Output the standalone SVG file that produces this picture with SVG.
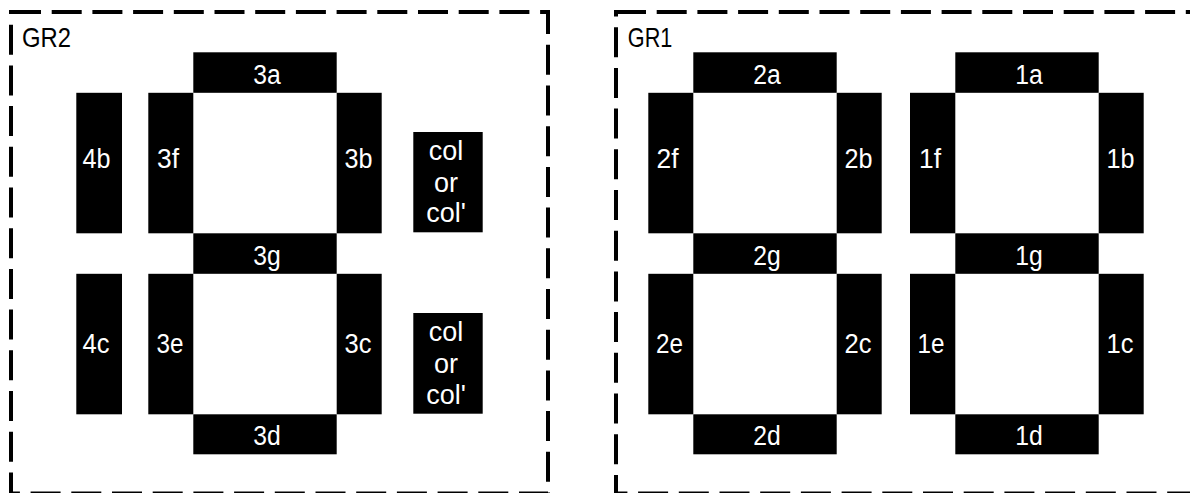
<svg xmlns="http://www.w3.org/2000/svg" width="1190" height="493" viewBox="0 0 1190 493">
<style>
.frame{fill:none;stroke:#000;stroke-width:4;stroke-dasharray:30 10.7}
.seg{fill:#000}
.lbl{fill:#fff;font-family:"Liberation Sans",Arial,sans-serif;font-size:27px;text-anchor:middle}
.col{fill:#fff;font-family:"Liberation Sans",Arial,sans-serif;font-size:27px;text-anchor:middle}
.title{fill:#000;font-family:"Liberation Sans",Arial,sans-serif;font-size:28px}
</style>
<rect width="1190" height="493" fill="#fff"/>
<g id="GR2">
<rect class="frame" x="11" y="12" width="537" height="481.5"/>
<text class="title" x="22" y="46.7" textLength="49" lengthAdjust="spacingAndGlyphs">GR2</text>
</g>
<g id="GR1">
<rect class="frame" x="616" y="12" width="640" height="481.5"/>
<text class="title" x="627.8" y="46.7" textLength="44.5" lengthAdjust="spacingAndGlyphs">GR1</text>
</g>
<g id="seg-4b"><rect class="seg" x="76.3" y="92.8" width="45.7" height="140.5"/><text class="lbl" x="96.5" y="168.3" textLength="28" lengthAdjust="spacingAndGlyphs">4b</text></g>
<g id="seg-4c"><rect class="seg" x="76.3" y="273.8" width="45.7" height="140.5"/><text class="lbl" x="96" y="353.3" textLength="27" lengthAdjust="spacingAndGlyphs">4c</text></g>
<g id="seg-3a"><rect class="seg" x="193.3" y="52.3" width="143.4" height="40.5"/><text class="lbl" x="267" y="84.3" textLength="27.5" lengthAdjust="spacingAndGlyphs">3a</text></g>
<g id="seg-3f"><rect class="seg" x="148.3" y="92.8" width="45" height="140.5"/><text class="lbl" x="168" y="168.3" textLength="22" lengthAdjust="spacingAndGlyphs">3f</text></g>
<g id="seg-3b"><rect class="seg" x="336.7" y="92.8" width="45" height="140.5"/><text class="lbl" x="358.5" y="168.3" textLength="28" lengthAdjust="spacingAndGlyphs">3b</text></g>
<g id="seg-3g"><rect class="seg" x="193.3" y="233.3" width="143.4" height="40.5"/><text class="lbl" x="267" y="265" textLength="27.5" lengthAdjust="spacingAndGlyphs">3g</text></g>
<g id="seg-3e"><rect class="seg" x="148.3" y="273.8" width="45" height="140.5"/><text class="lbl" x="170" y="353.3" textLength="27" lengthAdjust="spacingAndGlyphs">3e</text></g>
<g id="seg-3c"><rect class="seg" x="336.7" y="273.8" width="45" height="140.5"/><text class="lbl" x="358" y="353.3" textLength="27" lengthAdjust="spacingAndGlyphs">3c</text></g>
<g id="seg-3d"><rect class="seg" x="193.3" y="414.3" width="143.4" height="40"/><text class="lbl" x="267" y="444.5" textLength="27.5" lengthAdjust="spacingAndGlyphs">3d</text></g>
<g id="col-upper"><rect class="seg" x="413.3" y="132" width="69.4" height="100.3"/><text class="col" x="446" y="159.5">col</text><text class="col" x="446" y="191.5">or</text><text class="col" x="446" y="222.3">col'</text></g>
<g id="col-lower"><rect class="seg" x="413.3" y="313" width="69.4" height="100.7"/><text class="col" x="446" y="340.5">col</text><text class="col" x="446" y="372.5">or</text><text class="col" x="446" y="404">col'</text></g>
<g id="seg-2a"><rect class="seg" x="693.3" y="52.3" width="143.4" height="40.5"/><text class="lbl" x="767" y="84.3" textLength="27.5" lengthAdjust="spacingAndGlyphs">2a</text></g>
<g id="seg-2f"><rect class="seg" x="648.3" y="92.8" width="45" height="140.5"/><text class="lbl" x="667.5" y="168.3" textLength="22" lengthAdjust="spacingAndGlyphs">2f</text></g>
<g id="seg-2b"><rect class="seg" x="836.7" y="92.8" width="45" height="140.5"/><text class="lbl" x="858.5" y="168.3" textLength="28" lengthAdjust="spacingAndGlyphs">2b</text></g>
<g id="seg-2g"><rect class="seg" x="693.3" y="233.3" width="143.4" height="40.5"/><text class="lbl" x="767" y="265" textLength="27.5" lengthAdjust="spacingAndGlyphs">2g</text></g>
<g id="seg-2e"><rect class="seg" x="648.3" y="273.8" width="45" height="140.5"/><text class="lbl" x="669.5" y="353.3" textLength="27" lengthAdjust="spacingAndGlyphs">2e</text></g>
<g id="seg-2c"><rect class="seg" x="836.7" y="273.8" width="45" height="140.5"/><text class="lbl" x="858" y="353.3" textLength="27" lengthAdjust="spacingAndGlyphs">2c</text></g>
<g id="seg-2d"><rect class="seg" x="693.3" y="414.3" width="143.4" height="40"/><text class="lbl" x="767" y="444.5" textLength="27.5" lengthAdjust="spacingAndGlyphs">2d</text></g>
<g id="seg-1a"><rect class="seg" x="955.3" y="52.3" width="143.4" height="40.5"/><text class="lbl" x="1029" y="84.3" textLength="27.5" lengthAdjust="spacingAndGlyphs">1a</text></g>
<g id="seg-1f"><rect class="seg" x="910" y="92.8" width="45.3" height="140.5"/><text class="lbl" x="930" y="168.3" textLength="22" lengthAdjust="spacingAndGlyphs">1f</text></g>
<g id="seg-1b"><rect class="seg" x="1098.7" y="92.8" width="45" height="140.5"/><text class="lbl" x="1120.5" y="168.3" textLength="28" lengthAdjust="spacingAndGlyphs">1b</text></g>
<g id="seg-1g"><rect class="seg" x="955.3" y="233.3" width="143.4" height="40.5"/><text class="lbl" x="1029" y="265" textLength="27.5" lengthAdjust="spacingAndGlyphs">1g</text></g>
<g id="seg-1e"><rect class="seg" x="910" y="273.8" width="45.3" height="140.5"/><text class="lbl" x="931" y="353.3" textLength="27" lengthAdjust="spacingAndGlyphs">1e</text></g>
<g id="seg-1c"><rect class="seg" x="1098.7" y="273.8" width="45" height="140.5"/><text class="lbl" x="1120" y="353.3" textLength="27" lengthAdjust="spacingAndGlyphs">1c</text></g>
<g id="seg-1d"><rect class="seg" x="955.3" y="414.3" width="143.4" height="40"/><text class="lbl" x="1029" y="444.5" textLength="27.5" lengthAdjust="spacingAndGlyphs">1d</text></g>
<g id="connectors"></g>
</svg>
